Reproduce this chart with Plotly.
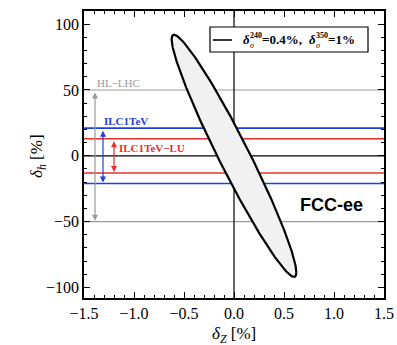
import numpy as np
import plotly.graph_objects as go

# Axis ranges and ticks
x_range = [-1.5, 1.5]
y_range = [-108, 110]
x_ticks = [-1.5, -1.0, -0.5, 0.0, 0.5, 1.0, 1.5]
y_ticks = [-100, -50, 0, 50, 100]

# Precision bands on delta_h (in %)
hl_lhc = 50
ilc_1tev = 21
ilc_1tev_lu = 13

# FCC-ee ellipse: tip point (x, y) and delta_h intercept at delta_Z = 0
ellipse_tip = (-0.6, 92)
ellipse_y_intercept = 25

# Quadratic form a x^2 + 2 b x y + c y^2 = 1 from the readings above
c = 1.0 / ellipse_y_intercept**2
ratio = -ellipse_tip[0] / ellipse_tip[1]          # b / a
a = (c - 1.0 / ellipse_tip[1]**2) / (ratio**2)
b = ratio * a
M = np.array([[a, b], [b, c]])
L = np.linalg.cholesky(np.linalg.inv(M))
t = np.linspace(0, 2 * np.pi, 361)
pts = L @ np.vstack([np.cos(t), np.sin(t)])
ex, ey = pts[0], pts[1]

serif = "Liberation Serif"
blue = "#1f3fe6"
red = "#e8302e"
gray = "#9a9a9a"

# plot area in pixels (for placing the legend box and titles)
W, H = 397, 345
ML, MR, MT, MB = 84, 13, 11, 47
PW, PH = W - ML - MR, H - MT - MB


def px(xp):
    return (xp - ML) / PW


def py(yp):
    return (H - MB - yp) / PH


fig = go.Figure()

fig.add_trace(go.Scatter(
    x=ex, y=ey, mode="lines", fill="toself",
    fillcolor="#f1f1f1", line=dict(color="black", width=2.2),
    showlegend=False, hoverinfo="skip"))

shapes = []
for yv, col, w in [(hl_lhc, gray, 1.2), (-hl_lhc, gray, 1.2),
                   (ilc_1tev, blue, 1.6), (-ilc_1tev, blue, 1.6),
                   (ilc_1tev_lu, red, 1.6), (-ilc_1tev_lu, red, 1.6),
                   (0, "black", 1.2)]:
    shapes.append(dict(type="line", xref="paper", yref="y", x0=0, x1=1,
                       y0=yv, y1=yv, line=dict(color=col, width=w), layer="below"))
shapes.append(dict(type="line", xref="x", yref="paper", x0=0, x1=0, y0=0, y1=1,
                   line=dict(color="black", width=1.2), layer="below"))

# Legend box and its line sample
shapes.append(dict(type="rect", xref="paper", yref="paper", x0=px(210), x1=px(368),
                   y0=py(52), y1=py(27), fillcolor="white",
                   line=dict(color="black", width=1.2), layer="above"))
shapes.append(dict(type="line", xref="paper", yref="paper", x0=px(213), x1=px(232),
                   y0=py(40), y1=py(40), line=dict(color="black", width=1.6), layer="above"))

annotations = []
# double-headed range arrows
for xv, yv, col in [(-1.39, hl_lhc, gray), (-1.31, ilc_1tev, blue), (-1.2, ilc_1tev_lu, red)]:
    annotations.append(dict(x=xv, y=-yv, ax=xv, ay=yv, xref="x", yref="y",
                            axref="x", ayref="y", text="", showarrow=True,
                            arrowhead=2, startarrowhead=2, arrowside="end+start",
                            arrowsize=1.0, arrowwidth=1.2, arrowcolor=col,
                            standoff=1, startstandoff=1))

annotations += [
    dict(x=-1.39, y=hl_lhc, xref="x", yref="y", text="HL\u2212LHC", showarrow=False,
         xanchor="left", yanchor="bottom", yshift=-1,
         font=dict(family=serif, size=11, color=gray)),
    dict(x=-1.32, y=ilc_1tev, xref="x", yref="y", text="<b>ILC1TeV</b>", showarrow=False,
         xanchor="left", yanchor="bottom", yshift=-1,
         font=dict(family=serif, size=11, color=blue)),
    dict(x=-1.17, y=ilc_1tev_lu - 1, xref="x", yref="y", text="<b>ILC1TeV\u2212LU</b>",
         showarrow=False, xanchor="left", yanchor="top",
         font=dict(family=serif, size=11, color=red)),
    dict(x=0.97, y=-37, xref="x", yref="y", text="<b>FCC-ee</b>", showarrow=False,
         xanchor="center", yanchor="middle",
         font=dict(family="Liberation Sans", size=18, color="black")),
    # axis titles
    dict(x=px(38), y=py(156), xref="paper", yref="paper", textangle=-90,
         xanchor="center", yanchor="middle",
         text="<i>δ<sub>h</sub></i> [%]", showarrow=False,
         font=dict(family=serif, size=17, color="black")),
    dict(x=px(234), y=py(335), xref="paper", yref="paper",
         xanchor="center", yanchor="middle",
         text="<i>δ<sub>Z</sub></i> [%]", showarrow=False,
         font=dict(family=serif, size=17, color="black")),
]

# Legend text: delta with stacked sub/superscripts
legend_parts = [
    (241, 40, "<b><i>δ</i></b>", 13),
    (248, 40.5, "<b>240</b><br><i>σ</i>", 8),
    (260, 40, "<b>=0.4%,</b>", 13),
    (307, 40, "<b><i>δ</i></b>", 13),
    (314, 40.5, "<b>350</b><br><i>σ</i>", 8),
    (326, 40, "<b>=1%</b>", 13),
]
for xp, yp, txt, fs in legend_parts:
    annotations.append(dict(x=px(xp), y=py(yp), xref="paper", yref="paper",
                            xanchor="left", yanchor="middle", align="left",
                            text=txt, showarrow=False,
                            font=dict(family=serif, size=fs, color="black")))

axis_common = dict(
    showgrid=False, zeroline=False, showline=True, linecolor="black", linewidth=1.6,
    mirror="allticks", ticks="inside", ticklen=6, tickwidth=1.2, tickcolor="black",
    tickfont=dict(family=serif, size=16, color="black"),
)

fig.update_layout(
    width=W, height=H,
    margin=dict(l=ML, r=MR, t=MT, b=MB, autoexpand=False),
    paper_bgcolor="white", plot_bgcolor="white",
    showlegend=False,
    font=dict(family=serif),
    shapes=shapes, annotations=annotations,
    xaxis=dict(range=x_range, tickvals=x_ticks, tickformat=".1f", automargin=False,
               minor=dict(dtick=0.1, ticks="inside", ticklen=3, tickcolor="black"),
               **axis_common),
    yaxis=dict(range=y_range, tickvals=y_ticks, automargin=False,
               minor=dict(dtick=10, ticks="inside", ticklen=3, tickcolor="black"),
               **axis_common),
)

fig.write_html("out.html")
